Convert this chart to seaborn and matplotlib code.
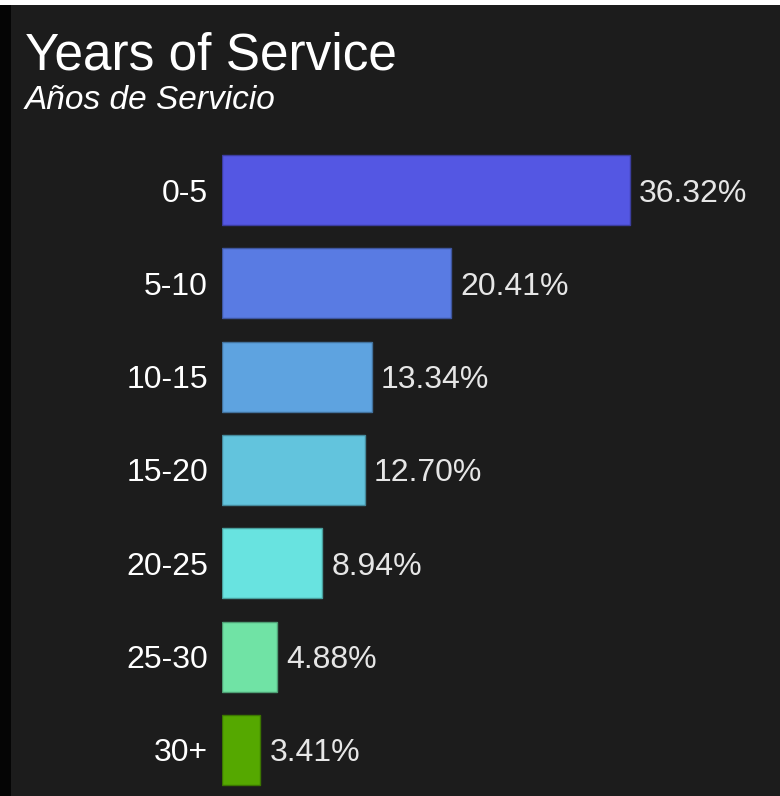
import matplotlib
matplotlib.use("Agg")
import matplotlib.pyplot as plt
import seaborn as sns
import pandas as pd
from matplotlib.patches import Rectangle

categories = ["0-5", "5-10", "10-15", "15-20", "20-25", "25-30", "30+"]
values = [36.32, 20.41, 13.34, 12.70, 8.94, 4.88, 3.41]
colors = ["#5457e3", "#597be3", "#5ea3e0", "#62c4dd", "#68e3e0", "#70e3a5", "#55a800"]
title = "Years of Service"
subtitle = "Años de Servicio"

df = pd.DataFrame({"cat": categories, "val": values})

sns.set_theme(style="dark")
plt.rcParams["font.family"] = ["Liberation Sans", "DejaVu Sans"]

W, H = 780, 796
fig = plt.figure(figsize=(W / 100, H / 100), dpi=100, facecolor="white")
fig.patches.append(Rectangle((11 / W, 0), 1 - 11 / W, 1 - 5 / H, transform=fig.transFigure,
                             facecolor="#1c1c1c", edgecolor="none", zorder=-10))
fig.patches.append(Rectangle((0, 0), 11 / W, 1 - 5 / H, transform=fig.transFigure,
                             facecolor="#050505", edgecolor="none", zorder=-10))

spacing = 93.33
ax_top = 190 - spacing / 2
ax_bot = 794
left_px = 222
ax = fig.add_axes([left_px / W, 1 - ax_bot / H, (W - left_px) / W, (ax_bot - ax_top) / H])
ax.set_facecolor("none")
ax.set_zorder(5)

sns.barplot(data=df, x="val", y="cat", hue="cat", palette=colors, legend=False,
            width=0.75, ax=ax, saturation=1, linewidth=1)
for p, c in zip(ax.patches, colors):
    p.set_edgecolor(tuple(x * 0.7 for x in matplotlib.colors.to_rgb(c)))

px_per = 11.23
ax.set_xlim(0, (W - left_px) / px_per)
ax.set_ylim(-0.5 + (ax_bot - ax_top) / spacing, -0.5)

for i, v in enumerate(values):
    ax.text(v + 9 / px_per, i, f"{v:.2f}%", va="center_baseline", ha="left",
            color="#e6e6e6", fontsize=23)

ax.set_xlabel("")
ax.set_ylabel("")
ax.set_xticks([])
ax.tick_params(axis="y", length=0, pad=10, labelsize=23, labelcolor="white")
for lbl in ax.get_yticklabels():
    lbl.set_verticalalignment("center_baseline")
for s in ax.spines.values():
    s.set_visible(False)
ax.grid(False)

fig.text(25 / W, 1 - 70 / H, title, color="white", fontsize=37, ha="left", va="baseline", zorder=6)
fig.text(25 / W, 1 - 109 / H, subtitle, color="white", fontsize=24, style="italic",
         ha="left", va="baseline", zorder=6)

fig.savefig("out.png", dpi=100, facecolor="white")
